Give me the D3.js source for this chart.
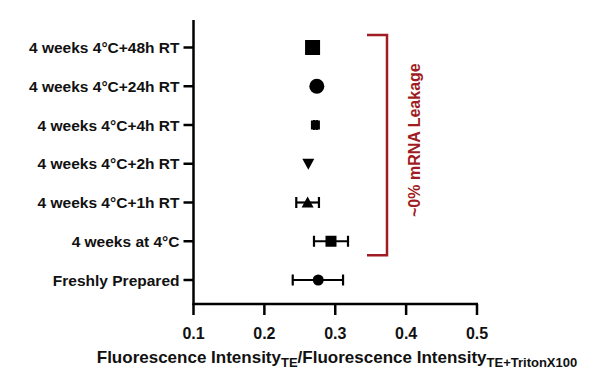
<!DOCTYPE html>
<html>
<head>
<meta charset="utf-8">
<script src="https://cdn.jsdelivr.net/npm/d3@7"></script>
<style>
  body { margin: 0; background: #fff; }
  text { font-family: "Liberation Sans", Arial, sans-serif; }
</style>
</head>
<body>
<svg id="chart" width="611" height="389"></svg>
<script>
// données
var categories = ["4 weeks 4°C+48h RT", "4 weeks 4°C+24h RT", "4 weeks 4°C+4h RT",
  "4 weeks 4°C+2h RT", "4 weeks 4°C+1h RT", "4 weeks at 4°C", "Freshly Prepared"];
var means = [0.268, 0.274, 0.272, 0.262, 0.261, 0.294, 0.276];
var errLow = [0.268, 0.274, 0.270, 0.262, 0.245, 0.270, 0.240];
var errHigh = [0.268, 0.274, 0.274, 0.262, 0.277, 0.318, 0.311];
var symbols = ["square", "circle", "cross", "triDown", "triUp", "square", "circle"];
var markSize = [15, 15, 9, 12, 12, 11, 11];
var xTicks = [0.1, 0.2, 0.3, 0.4, 0.5];
var bracketRows = ["4 weeks 4°C+48h RT", "4 weeks at 4°C"];
var bracketLabel = "~0% mRNA Leakage";

var svg = d3.select("#chart");
var axisX = 193.5;
var x = d3.scaleLinear().domain([0.1, 0.5]).range([axisX, 477]);
var y = d3.scalePoint().domain(categories).range([47.5, 280]);
var axisY = 304;

// axe des y
var gy = svg.append("g").attr("transform", "translate(" + axisX + ",0)");
gy.append("line").attr("x1", 0).attr("x2", 0).attr("y1", 20).attr("y2", axisY + 1)
  .attr("stroke", "#000").attr("stroke-width", 2.5);
categories.forEach(function (c) {
  gy.append("line").attr("x1", -10).attr("x2", 0).attr("y1", y(c)).attr("y2", y(c))
    .attr("stroke", "#000").attr("stroke-width", 2.5);
  gy.append("text").attr("x", -14).attr("y", y(c) + 5.5)
    .attr("text-anchor", "end").attr("font-size", "15.5px").attr("font-weight", "bold")
    .attr("fill", "#111").text(c);
});

// axe des x
var gx = svg.append("g").attr("transform", "translate(0," + axisY + ")");
gx.append("line").attr("x1", axisX - 1).attr("x2", x(0.5) + 1).attr("y1", 0).attr("y2", 0)
  .attr("stroke", "#000").attr("stroke-width", 2.5);
xTicks.forEach(function (t) {
  gx.append("line").attr("x1", x(t)).attr("x2", x(t)).attr("y1", 0).attr("y2", 11)
    .attr("stroke", "#000").attr("stroke-width", 2.5);
  gx.append("text").attr("x", x(t)).attr("y", 34.5).attr("text-anchor", "middle")
    .attr("font-size", "16px").attr("font-weight", "bold").attr("fill", "#111")
    .text(d3.format(".1f")(t));
});

// titre de l'axe x avec indices
var title = svg.append("text").attr("x", 337).attr("y", 363).attr("text-anchor", "middle")
  .attr("font-size", "17px").attr("font-weight", "bold").attr("fill", "#111");
title.append("tspan").text("Fluorescence Intensity");
title.append("tspan").attr("font-size", "13px").attr("dy", 4).text("TE");
title.append("tspan").attr("dy", -4).text("/Fluorescence Intensity");
title.append("tspan").attr("font-size", "13px").attr("dy", 4).text("TE+TritonX100");

// barres d'erreur
categories.forEach(function (c, i) {
  if (errHigh[i] - errLow[i] < 0.005) return;
  var g = svg.append("g").attr("stroke", "#000").attr("stroke-width", 2.2);
  g.append("line").attr("x1", x(errLow[i])).attr("x2", x(errHigh[i]))
    .attr("y1", y(c)).attr("y2", y(c));
  [errLow[i], errHigh[i]].forEach(function (v) {
    g.append("line").attr("x1", x(v)).attr("x2", x(v))
      .attr("y1", y(c) - 5.5).attr("y2", y(c) + 5.5);
  });
});

// symboles
categories.forEach(function (c, i) {
  var cx = x(means[i]), cy = y(c), s = markSize[i];
  if (symbols[i] === "square") {
    svg.append("rect").attr("x", cx - s / 2).attr("y", cy - s / 2)
      .attr("width", s).attr("height", s).attr("fill", "#000");
  } else if (symbols[i] === "circle") {
    svg.append("circle").attr("cx", cx).attr("cy", cy).attr("r", s / 2).attr("fill", "#000");
  } else if (symbols[i] === "cross") {
    svg.append("rect").attr("x", cx - s / 2).attr("y", cy - s / 2)
      .attr("width", s).attr("height", s).attr("fill", "#000");
    var g = svg.append("g").attr("stroke", "#000").attr("stroke-width", 2.2);
    g.append("line").attr("x1", x(errLow[i])).attr("x2", x(errHigh[i])).attr("y1", cy).attr("y2", cy);
    [errLow[i], errHigh[i]].forEach(function (v) {
      g.append("line").attr("x1", x(v)).attr("x2", x(v)).attr("y1", cy - 5).attr("y2", cy + 5);
    });
  } else if (symbols[i] === "triDown") {
    svg.append("path").attr("d", "M" + (cx - s / 2) + "," + (cy - s / 2.4) + "L" + (cx + s / 2) + ","
      + (cy - s / 2.4) + "L" + cx + "," + (cy + s / 2)).attr("fill", "#000");
  } else if (symbols[i] === "triUp") {
    svg.append("path").attr("d", "M" + (cx - s / 2) + "," + (cy + s / 2.4) + "L" + (cx + s / 2) + ","
      + (cy + s / 2.4) + "L" + cx + "," + (cy - s / 2)).attr("fill", "#000");
  }
});

// accolade rouge
var red = "#a01c22";
var bTop = y(bracketRows[0]) - 12.5, bBot = y(bracketRows[1]) + 14;
svg.append("path")
  .attr("d", "M367," + bTop + "H387V" + bBot + "H367")
  .attr("fill", "none").attr("stroke", red).attr("stroke-width", 2.5);
svg.append("text")
  .attr("transform", "translate(420," + ((bTop + bBot) / 2 - 5) + ") rotate(-90)")
  .attr("text-anchor", "middle").attr("font-size", "16px").attr("fill", red)
  .attr("font-weight", "bold").text(bracketLabel);
</script>
</body>
</html>
